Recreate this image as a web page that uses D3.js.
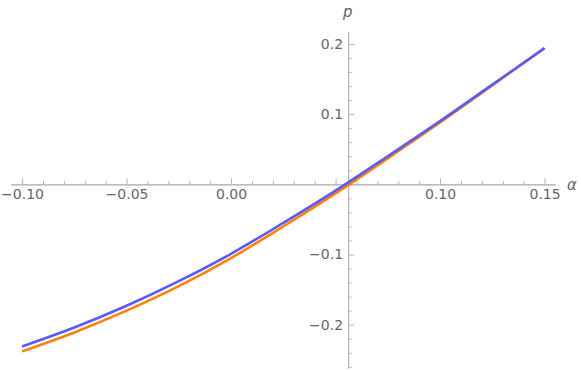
<!DOCTYPE html>
<html>
<head>
<meta charset="utf-8">
<script src="https://cdn.jsdelivr.net/npm/d3@7"></script>
<style>
  body { margin: 0; background: #fff; }
  svg { display: block; }
  .tick text { font-family: "DejaVu Sans", sans-serif; font-size: 14px; fill: #666; }
  .axis path, .axis line { stroke: #b4b4b4; }
</style>
</head>
<body>
<script>
// alpha values sampled along the curves
const alpha = [-0.10, -0.075, -0.05, -0.025, 0.00, 0.025, 0.05, 0.075, 0.10, 0.125, 0.15];
// blue curve (drawn on top)
const pBlue = [-0.231, -0.204, -0.173, -0.138, -0.099, -0.055, -0.009, 0.040, 0.090, 0.142, 0.194];
// orange curve
const pOrange = [-0.238, -0.211, -0.180, -0.145, -0.105, -0.060, -0.013, 0.037, 0.088, 0.141, 0.194];

const xMajor = [-0.10, -0.05, 0.00, 0.05, 0.10, 0.15];
const xLabeled = [-0.10, -0.05, 0.00, 0.10, 0.15]; // 0.05 sits on the y axis, no label
const yMajor = [-0.2, -0.1, 0.1, 0.2];

const width = 581, height = 371;
const alphaOrigin = 0.056; // where the p axis crosses the alpha axis

const svg = d3.select("body").append("svg")
  .attr("width", width)
  .attr("height", height);

// plot range of the axes
const x = d3.scaleLinear().domain([-0.1053, 0.155]).range([11, 555]);
const y = d3.scaleLinear().domain([-0.2617, 0.217]).range([368, 32]);

const xMinor = d3.range(-10, 16).map(i => i / 100).filter(v => !xMajor.some(m => Math.abs(m - v) < 1e-9));
const yMinor = d3.range(-13, 11).map(i => i / 50).filter(v => Math.abs(v * 10 - Math.round(v * 10)) > 1e-6);

// alpha axis
const gx = svg.append("g").attr("class", "axis")
  .attr("transform", `translate(0,${y(0)})`);
gx.append("g")
  .call(d3.axisBottom(x).tickValues(xMinor).tickSizeInner(-3.5).tickSizeOuter(0).tickFormat(""));
gx.append("g")
  .call(d3.axisBottom(x).tickValues(xMajor).tickSizeInner(-6).tickSizeOuter(0).tickPadding(5)
    .tickFormat(d => xLabeled.some(v => Math.abs(v - d) < 1e-9) ? d3.format(".2f")(d) : ""));
gx.selectAll(".domain").attr("stroke", "#b4b4b4");
gx.selectAll(".tick line").attr("stroke", "#b4b4b4");

// p axis
const gy = svg.append("g").attr("class", "axis")
  .attr("transform", `translate(${x(alphaOrigin)},0)`);
gy.append("g")
  .call(d3.axisLeft(y).tickValues(yMinor).tickSizeInner(-3.5).tickSizeOuter(0).tickFormat(""));
gy.append("g")
  .call(d3.axisLeft(y).tickValues(yMajor).tickSizeInner(-6).tickSizeOuter(0).tickPadding(5)
    .tickFormat(d3.format(".1f")));
gy.selectAll(".domain").attr("stroke", "#b4b4b4");
gy.selectAll(".tick line").attr("stroke", "#b4b4b4");

// axis labels
svg.append("text")
  .attr("x", 567).attr("y", 190)
  .style("font-family", "DejaVu Sans, sans-serif")
  .style("font-style", "italic")
  .style("font-size", "15px")
  .style("fill", "#666")
  .text("α");
svg.append("text")
  .attr("x", x(alphaOrigin) - 5).attr("y", 17)
  .style("font-family", "DejaVu Sans, sans-serif")
  .style("font-style", "italic")
  .style("font-size", "15px")
  .style("fill", "#666")
  .text("p");

// curves
const line = d3.line()
  .x(d => x(d[0]))
  .y(d => y(d[1]))
  .curve(d3.curveCatmullRom);

const series = [
  { values: pOrange, color: "#ff8106" },
  { values: pBlue, color: "#5a5af6" }
];

svg.append("g")
  .selectAll("path")
  .data(series)
  .enter()
  .append("path")
  .attr("d", s => line(alpha.map((a, i) => [a, s.values[i]])))
  .style("fill", "none")
  .style("stroke", s => s.color)
  .style("stroke-width", 2.6)
  .style("stroke-linejoin", "round");
</script>
</body>
</html>
